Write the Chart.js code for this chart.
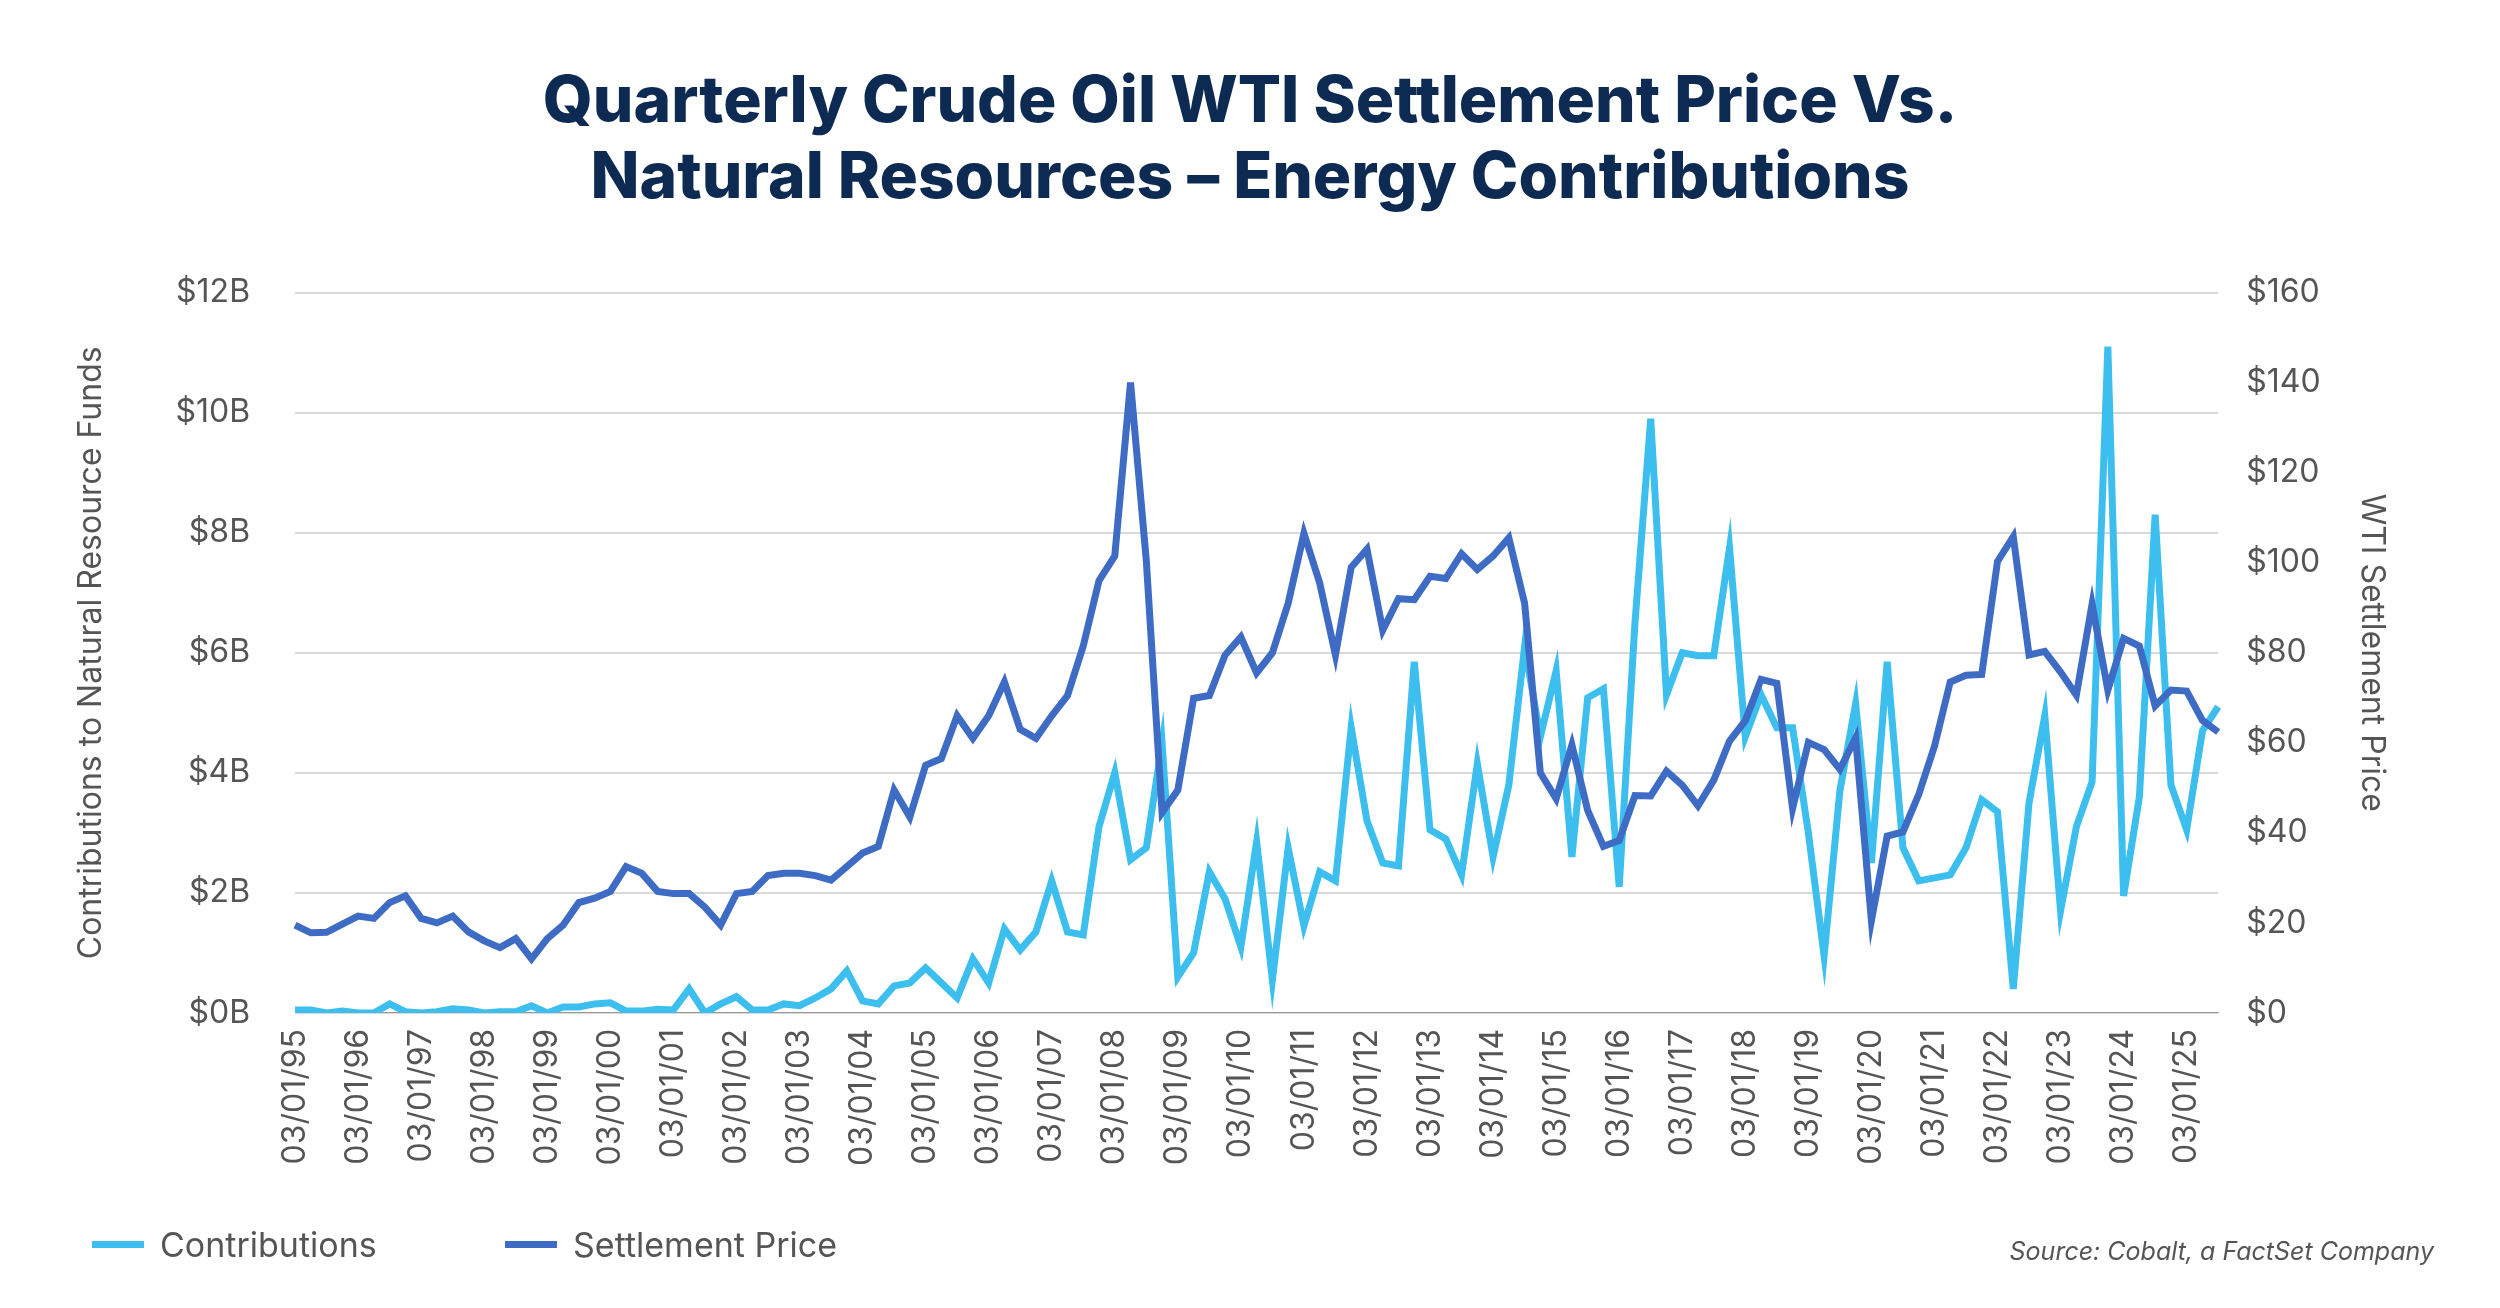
<!DOCTYPE html>
<html><head><meta charset="utf-8">
<script src="https://cdn.jsdelivr.net/npm/chart.js@4.4.0/dist/chart.umd.min.js"></script>
<style>
html,body{margin:0;padding:0;background:#fff;width:2500px;height:1308px;overflow:hidden;font-family:Inter,Roboto,sans-serif}
#wrap{position:absolute;left:0;top:0;width:2500px;height:1308px}
.leg{position:absolute;top:1224px;font-size:34px;color:#555;display:flex;align-items:center}
.leg span{display:inline-block;width:52px;height:7px;margin-right:16px}
#src{position:absolute;right:66px;top:1236px;font-size:25px;font-style:italic;color:#555}
</style></head><body>
<div id="wrap"><canvas id="c" width="2500" height="1308"></canvas></div>
<div class="leg" style="left:92px"><span style="background:#3cbfef"></span>Contributions</div>
<div class="leg" style="left:505px"><span style="background:#3e6cc4"></span>Settlement Price</div>
<div id="src">Source: Cobalt, a FactSet Company</div>
<script>
const years=[];for(let y=1995;y<=2025;y++)years.push(y);
const quarters=['03','06','09','12'];
const categories=[];
years.forEach(y=>quarters.forEach(q=>{const s=q+'/01/'+String(y%100).padStart(2,'0');if(categories.length<123)categories.push(s);}));
const contributions=[0.05,0.05,0.0,0.03, 0.0,0.0,0.15,0.02, 0.0,0.02,0.07,0.05, 0.0,0.02,0.02,0.12,
0.0,0.1,0.1,0.15, 0.17,0.03,0.03,0.06, 0.05,0.4,0.0,0.15, 0.27,0.05,0.05,0.15, 0.12,0.25,0.4,0.7,
0.2,0.15,0.45,0.5, 0.75,0.5,0.25,0.9, 0.5,1.4,1.05,1.35, 2.2,1.35,1.3,3.1, 4.0,2.55,2.75,4.5,
0.6,1.0,2.35,1.9, 1.1,2.85,0.55,2.75, 1.45,2.35,2.2,4.75, 3.2,2.5,2.45,5.85, 3.05,2.9,2.3,4.15,
2.6,3.8,6.1,4.6, 5.7,2.6,5.25,5.4, 2.1,6.5,9.9,5.3, 6.0,5.95,5.95,7.75, 4.6,5.3,4.75,4.75,
3.0,0.95,3.7,5.15, 2.5,5.85,2.75,2.2, 2.25,2.3,2.75,3.55, 3.35,0.4,3.5,4.95, 1.7,3.1,3.85,11.1,
1.95,3.6,8.3,3.8, 3.05,4.7,5.1];
const settlement=[19.5,17.8,17.9,19.7, 21.5,21,24.5,26, 21,20,21.5,18, 16,14.5,16.5,12, 16.5,19.5,24.5,25.5,
27,32.5,31,27, 26.5,26.5,23.5,19.5, 26.5,27,30.5,31, 31,30.5,29.5,32.5, 35.5,37,49.5,43.5,
55,56.5,66,61, 66,73.5,63,61, 66,70.5,81.5,96, 101.5,140,100.5,44.5, 49.5,69.9,70.5,79.5,
83.5,75.5,80,91, 106.5,95.5,79.5,99, 103,85,92,91.8, 97,96.5,102,98.5, 101.5,105.5,91,53.3,
47.6,59.5,45,37, 38.3,48.3,48.2,53.7, 50.6,46,51.7,60.4, 64.9,74.1,73.2,45.4, 60.1,58.5,54.1,61.1,
20.5,39.3,40.2,48.5, 59.2,73.5,75,75.2, 100.3,105.8,79.5,80.3, 75.7,70.6,90.8,71.7, 83.2,81.5,68.2,71.7,
71.5,65,62.4];
const leftTicks=[0,2,4,6,8,10,12];
const rightTicks=[0,20,40,60,80,100,120,140,160];
const tickFont={family:'Inter, Roboto, sans-serif',size:32};
new Chart(document.getElementById('c'),{
 type:'line',
 data:{labels:categories,datasets:[
  {label:'Contributions',data:contributions,yAxisID:'y',borderColor:'#3cbfef',borderWidth:7,pointRadius:0,tension:0,order:2},
  {label:'Settlement Price',data:settlement,yAxisID:'y1',borderColor:'#3e6cc4',borderWidth:7,pointRadius:0,tension:0,order:1}
 ]},
 options:{responsive:false,animation:false,
  layout:{padding:{left:40,right:40,top:0,bottom:134}},
  plugins:{legend:{display:false},tooltip:{enabled:false},
   title:{display:true,text:['Quarterly Crude Oil WTI Settlement Price Vs.','Natural Resources – Energy Contributions'],
    color:'#0d2a52',font:{family:'Inter, Roboto, sans-serif',size:64,weight:'800'},lineHeight:1.12,padding:{top:64,bottom:75}}},
  scales:{
   x:{grid:{display:false},border:{display:true,color:'#999'},
    ticks:{autoSkip:false,maxRotation:90,minRotation:90,color:'#555',font:tickFont,padding:8,
     callback:function(v,i){return i%4===0?categories[i]:'';}}},
   y:{position:'left',min:0,max:12,afterBuildTicks:a=>{a.ticks=leftTicks.map(v=>({value:v}));},
    grid:{color:'#d9d9d9',lineWidth:2,drawTicks:false},border:{display:false},
    ticks:{color:'#555',font:tickFont,padding:45,callback:v=>'$'+v+'B'},
    title:{display:true,text:'Contributions to Natural Resource Funds',color:'#555',font:{family:'Inter, Roboto, sans-serif',size:32},padding:{top:32,bottom:20}}},
   y1:{position:'right',min:0,max:160,afterBuildTicks:a=>{a.ticks=rightTicks.map(v=>({value:v}));},
    grid:{display:false,drawTicks:false},border:{display:false},
    ticks:{color:'#555',font:tickFont,padding:28,callback:v=>'$'+v},
    title:{display:true,text:'WTI Settlement Price',color:'#555',font:{family:'Inter, Roboto, sans-serif',size:32},padding:{top:69}}}
  }}
});
</script></body></html>
